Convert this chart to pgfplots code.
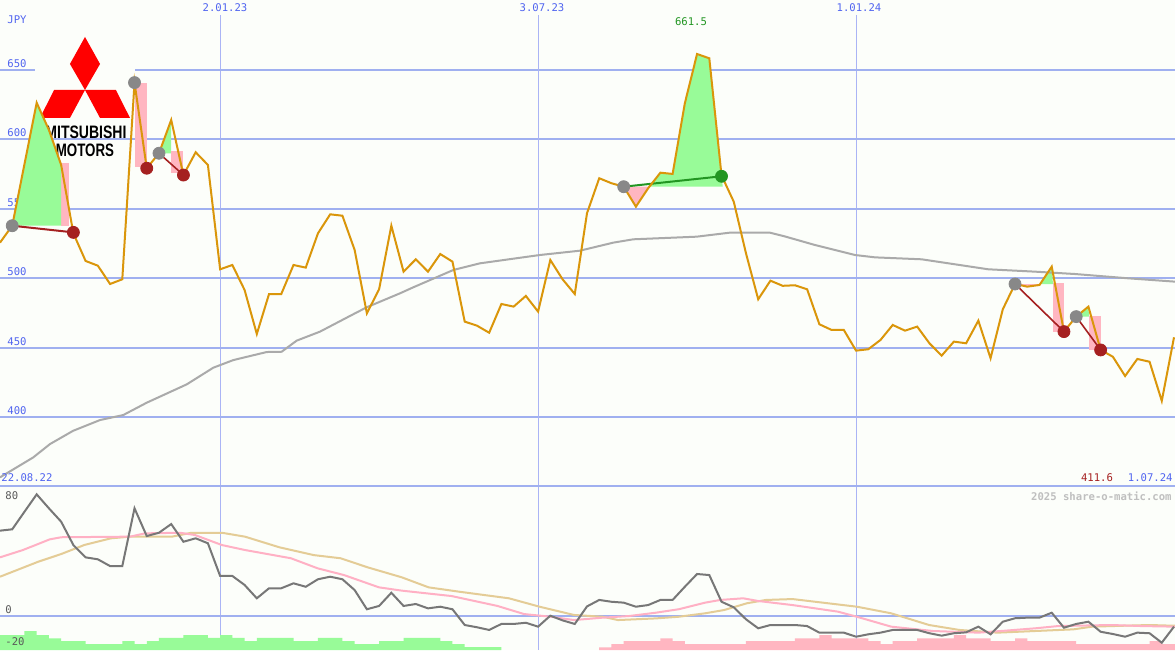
\documentclass[border=0pt]{standalone}
\usepackage{pgfplots}
\pgfplotsset{compat=1.18}
\usepackage{fontspec}
\setmonofont{DejaVu Sans Mono}
\newfontfamily\logofont{Liberation Sans}

\definecolor{bg}{RGB}{252,254,250}
\definecolor{gridblue}{RGB}{160,176,240}
\definecolor{vgrid}{RGB}{170,180,245}
\definecolor{lblue}{RGB}{80,100,240}
\definecolor{price}{RGB}{218,150,10}
\definecolor{magray}{RGB}{170,170,170}
\definecolor{okgreen}{RGB}{152,251,152}
\definecolor{okpink}{RGB}{255,182,193}
\definecolor{darkred}{RGB}{165,32,32}
\definecolor{mgray}{RGB}{136,136,136}
\definecolor{mgreen}{RGB}{34,150,34}
\definecolor{oscgray}{RGB}{119,119,119}
\definecolor{tanline}{RGB}{228,204,150}
\definecolor{pinkline}{RGB}{255,176,196}
\definecolor{logored}{RGB}{255,0,0}

\newcommand{\lbl}{\ttfamily\fontsize{5.3pt}{6pt}\selectfont}

% weekly closes, x = week index (12.23 px per week)
\pgfplotstableread{
i  p
0  525.6
1  537.8
2  582.1
3  626.4
4  606.8
5  581.6
6  532.3
7  512.4
8  509.0
9  495.8
10 499.2
11 640.9
12 579.2
13 590.0
14 614.0
15 574.3
16 590.7
17 581.6
18 506.4
19 509.5
20 491.5
21 459.8
22 488.6
23 488.6
24 509.5
25 507.6
26 532.3
27 546.0
28 545.0
29 520.3
30 474.7
31 492.0
32 537.8
33 504.7
34 513.6
35 504.7
36 517.4
37 511.9
38 468.7
39 465.8
40 460.7
41 481.4
42 479.5
43 487.2
44 475.9
45 513.1
46 499.2
47 488.6
48 546.8
49 572.0
50 568.4
51 565.9
52 551.5
53 564.8
54 576.0
55 575.1
56 626.0
57 661.5
58 658.4
59 574.0
60 555.1
61 517.9
62 484.8
63 498.2
64 494.5
65 494.9
66 492.0
67 466.8
68 462.7
69 462.7
70 447.8
71 448.8
72 455.5
73 466.3
74 462.2
75 465.1
76 453.1
77 444.2
78 454.3
79 453.1
80 469.4
81 442.3
82 477.6
83 495.8
84 493.9
85 495.1
86 508.3
87 461.5
88 472.3
89 479.5
90 448.3
91 443.4
92 429.5
93 441.8
94 439.8
95 411.6
96 457.4
}\closes

\pgfplotstableread{
i  v
0  56.7
1  57.6
2  69.3
3  80.9
4  71.6
5  62.7
6  47.1
7  38.9
8  37.6
9  33.1
10 33.1
11 71.6
12 53.1
13 55.3
14 61.1
15 49.3
16 51.6
17 48.3
18 26.5
19 26.5
20 20.5
21 11.6
22 18.3
23 18.3
24 21.6
25 19.3
26 24.3
27 26.0
28 24.3
29 17.1
30 4.3
31 6.5
32 15.3
33 6.5
34 7.8
35 4.9
36 6.0
37 4.3
38 -6.2
39 -7.7
40 -9.5
41 -5.5
42 -5.5
43 -4.7
44 -7.3
45 0.0
46 -3.1
47 -5.5
48 6.2
49 10.5
50 9.3
51 8.7
52 6.0
53 7.1
54 10.5
55 10.5
56 19.3
57 27.8
58 27.1
59 9.3
60 5.6
61 -2.4
62 -8.4
63 -6.2
64 -6.2
65 -6.2
66 -6.9
67 -11.3
68 -11.3
69 -11.3
70 -14.0
71 -12.4
72 -11.3
73 -9.5
74 -9.5
75 -9.5
76 -11.7
77 -13.3
78 -11.7
79 -11.1
80 -7.3
81 -12.4
82 -4.0
83 -1.7
84 -1.3
85 -1.3
86 2.0
87 -8.0
88 -5.5
89 -4.0
90 -10.7
91 -12.2
92 -14.0
93 -11.3
94 -11.7
95 -18.0
96 -7.3
}\osc

\begin{document}
\begin{tikzpicture}
\pgfplotsset{
  panel/.style={
    scale only axis, width=587.5pt, xmin=0, xmax=96.08,
    axis line style={draw=none}, tick style={draw=none}, major tick length=0pt,
    axis background/.style={fill=bg},
    xtick={18.07,70.07}, xticklabels={}, xmajorgrids,
    x grid style={vgrid, line width=0.5pt},
    extra x ticks={44.07}, extra x tick labels={},
    extra x tick style={major grid style={vgrid, line width=1pt}},
    y grid style={gridblue, line width=1pt},
  }
}
% ---------------- price panel ----------------
\begin{axis}[panel, at={(0,0)}, anchor=north west, height=243.5pt,
  ymin=349.55, ymax=700.4,
  ytick={400,450,...,650}, ymajorgrids,
  extra y ticks={350}, extra y tick labels={},
  extra y tick style={major grid style={gridblue, line width=1.3pt}},
  yticklabel style={font=\lbl, text=lblue, anchor=south west, inner sep=0pt, xshift=3.5pt, yshift=1pt},
  /pgf/number format/assume math mode=true,
]
% date strip at the top and gap in the 650 line behind the logo
\fill[bg] (axis cs:0,689.6) rectangle (axis cs:96.08,700.4);
\fill[bg] (axis cs:2.86,646) rectangle (axis cs:11.04,654);
% logo
\fill[logored] (axis cs:6.95,673.78) -- (axis cs:8.18,654.32) -- (axis cs:6.95,635.59) -- (axis cs:5.72,654.32) -- cycle;
\fill[logored] (axis cs:6.95,635.59) -- (axis cs:4.42,635.59) -- (axis cs:3.27,615.42) -- (axis cs:5.72,615.42) -- cycle;
\fill[logored] (axis cs:6.95,635.59) -- (axis cs:9.48,635.59) -- (axis cs:10.63,615.42) -- (axis cs:8.18,615.42) -- cycle;
\node[font=\logofont\bfseries\fontsize{9pt}{9pt}\selectfont, xscale=0.78, inner sep=0pt] at (axis cs:7.03,605.3) {MITSUBISHI};
\node[font=\logofont\bfseries\fontsize{9pt}{9pt}\selectfont, xscale=0.74, inner sep=0pt] at (axis cs:6.95,592.4) {MOTORS};

% pattern areas
\addplot[fill=okpink, draw=none] coordinates {(4.99,537.8) (5.68,537.8) (5.68,583) (4.99,583)};
\addplot[fill=okgreen, draw=none] coordinates {(1,537.8) (2,582.1) (3,626.4) (4,606.8) (5,581.6) (5,537.8)};
\addplot[fill=okpink, draw=none] coordinates {(11,580.4) (12.05,580.4) (12.05,640.9) (11,640.9)};
\addplot[fill=okgreen, draw=none] coordinates {(13,590) (14,614) (14,590)};
\addplot[fill=okpink, draw=none] coordinates {(14,575.6) (15,575.6) (15,591.5) (14,591.5)};
\addplot[fill=okpink, draw=none] coordinates {(51,565.9) (52,551.5) (53.1,565.9)};
\addplot[fill=okgreen, draw=none] coordinates {(53.1,565.9) (54,576) (55,575.1) (56,626) (57,661.5) (58,658.4) (59,574) (59.1,565.9)};
\addplot[fill=okpink, draw=none] coordinates {(83,495.8) (84,493.9) (85,495.1) (85.06,495.8)};
\addplot[fill=okgreen, draw=none] coordinates {(85.06,495.8) (86,508.3) (86.1,495.8)};
\addplot[fill=okpink, draw=none] coordinates {(86.1,461.5) (87.02,461.5) (87.02,496.3) (86.1,496.3)};
\addplot[fill=okgreen, draw=none] coordinates {(88,472.3) (89,479.5) (89.05,472.3)};
\addplot[fill=okpink, draw=none] coordinates {(89.05,448.3) (90.07,448.3) (90.07,472.7) (89.05,472.7)};

% long moving average
\addplot[magray, line width=1pt] coordinates {
(0,356.5) (2.72,370.9) (4.09,380.5) (5.99,390.1) (8.18,397.8) (10.08,401.4)
(12.0,410.3) (15.27,423.5) (17.44,435.5) (19.08,441) (21.81,446.8) (23.03,447)
(24.26,455) (26.17,461.5) (28.62,472.8) (29.98,479) (32.71,489.1) (33.79,493.4)
(37.07,505.9) (39.25,510.7) (44.15,516.7) (47.42,519.8) (50.15,525.6) (51.78,528)
(56.97,529.9) (59.69,532.8) (62.96,532.8) (64.05,530.4) (66.64,523.9) (69.91,516.7)
(71.55,515) (75.36,513.6) (80.81,506.4) (84.63,504.7) (87.9,503) (92.26,499.9) (96.08,497.5)};

% connecting lines
\addplot[darkred, line width=1pt] coordinates {(1,537.8) (6,533)};
\addplot[darkred, line width=0.8pt] coordinates {(13,590) (15,574.3)};
\addplot[darkred, line width=0.8pt] coordinates {(83,495.8) (87,461.5)};
\addplot[darkred, line width=0.8pt] coordinates {(88,472.3) (90,448.3)};
\addplot[mgreen, line width=1pt] coordinates {(51,565.9) (59,573.4)};

% markers
\addplot[only marks, mark=*, mark size=3pt, mgray] coordinates {(1,537.8) (11,640.9) (13,590) (51,565.9) (83,495.8) (88,472.3)};
\addplot[only marks, mark=*, mark size=3pt, darkred] coordinates {(6,533) (12,579.2) (15,574.3) (87,461.5) (90,448.3)};
\addplot[only marks, mark=*, mark size=3pt, mgreen] coordinates {(59,573.4)};

% price
\addplot[price, line width=1pt] table[x=i, y=p] {\closes};
\end{axis}

% ---------------- indicator panel ----------------
\begin{axis}[panel, at={(0,-243.5pt)}, anchor=north west, height=81.5pt,
  ymin=-22.87, ymax=85.8, ytick={0}, yticklabels={}, ymajorgrids,
]
\addplot[const plot, fill=okgreen, draw=none] coordinates {
(0,-22.9) (0,-12.9) (2,-10.2) (3,-12.9) (4,-15.1) (5,-16.9) (7,-18.9) (10,-16.9)
(11,-18.9) (12,-16.9) (13,-14.7) (15,-12.9) (17,-14.7) (18,-12.9) (19,-14.7)
(20,-16.9) (21,-14.7) (24,-16.9) (26,-14.7) (28,-16.9) (29,-18.9) (31,-16.9)
(33,-14.7) (36,-16.9) (37,-18.9) (38,-20.9) (41,-20.9) (41,-22.9)};
\addplot[const plot, fill=okpink, draw=none] coordinates {
(49,-22.9) (49,-21.1) (50,-18.9) (51,-16.9) (54,-15.1) (55,-16.9) (56,-18.9)
(61,-16.9) (65,-15.1) (67,-12.9) (68,-15.1) (71,-16.9) (72,-18.9) (73,-16.9)
(75,-15.1) (78,-12.9) (79,-15.1) (81,-16.9) (83,-15.1) (84,-16.9) (88,-18.9)
(94,-16.9) (95,-18.9) (96.08,-18.9) (96.08,-22.9)};
\addplot[tanline, line width=1pt] coordinates {
(0,26) (3.13,36) (5.0,41.1) (6.88,47.1) (9.08,51.6) (10.63,52.7) (14.06,52.7)
(15.65,55.3) (18.15,55.3) (20.03,52.7) (22.85,45.6) (25.66,40.4) (27.85,38.3)
(30.04,32.3) (32.85,25.6) (35.05,18.9) (37.55,16) (41.62,11.6) (44.12,6)
(46.93,0.5) (49.29,-0.7) (50.53,-2.9) (53.63,-1.8) (55.49,-0.7) (57.66,1.6)
(59.22,3.8) (61.08,8.3) (62.63,10.5) (64.8,11.1) (66.66,9.3) (70.07,6)
(72.87,1.6) (75.97,-6.2) (78.45,-9.5) (81.56,-11.3) (84.66,-10.2) (87.77,-9.1)
(89.31,-7.3) (93.97,-6.2) (96.08,-6.7)};
\addplot[pinkline, line width=1pt] coordinates {
(0,38.9) (1.88,43.8) (4.07,50.9) (5.0,52.3) (10.63,52.7) (11.86,54.9) (14.72,55.3)
(15.94,53.8) (18.15,47.1) (20.03,43.8) (23.79,38.3) (25.97,31.6) (28.13,27.1)
(30.99,18.9) (32.87,16.7) (36.93,13.1) (40.68,6.5) (42.85,1.1) (45.05,-0.7)
(46.93,-2.9) (49.29,-1.3) (51.46,-0.2) (53.63,2) (55.49,4.3) (57.66,8.7)
(58.9,10.5) (60.77,11.6) (62.01,9.8) (64.8,7.1) (68.52,2.7) (70.07,-0.7)
(72.87,-7.3) (76.29,-10.2) (80.01,-11.3) (82.17,-10) (84.66,-8.4) (86.53,-6.9)
(90.87,-6.2) (93.35,-6.9) (96.08,-7.3)};
\addplot[oscgray, line width=1pt] table[x=i, y=v] {\osc};
\end{axis}

% ---------------- labels (pixel units from the top left corner) ----------------
\begin{scope}[x=0.5pt, y=-0.5pt, every node/.style={font=\lbl, inner sep=0pt}]
\node[lblue, anchor=west] at (7,20) {JPY};
\node[lblue] at (225,8) {2.01.23};
\node[lblue] at (542,8) {3.07.23};
\node[lblue] at (859,8) {1.01.24};
\node[mgreen] at (691,22) {661.5};
\node[lblue, anchor=west] at (1,478) {22.08.22};
\node[darkred] at (1097,478) {411.6};
\node[lblue, anchor=east] at (1173,478) {1.07.24};
\node[black!25, anchor=east, font=\lbl\bfseries] at (1172,496) {2025 share-o-matic.com};
\node[black!65, anchor=west] at (5,496) {80};
\node[black!65, anchor=west] at (5,610) {0};
\node[black!65, anchor=west] at (5,642) {-20};
\end{scope}

% the picture is exactly the two panels
\pgfresetboundingbox
\path[use as bounding box] (0,0) rectangle (587.5pt,-325pt);
\end{tikzpicture}
\end{document}
